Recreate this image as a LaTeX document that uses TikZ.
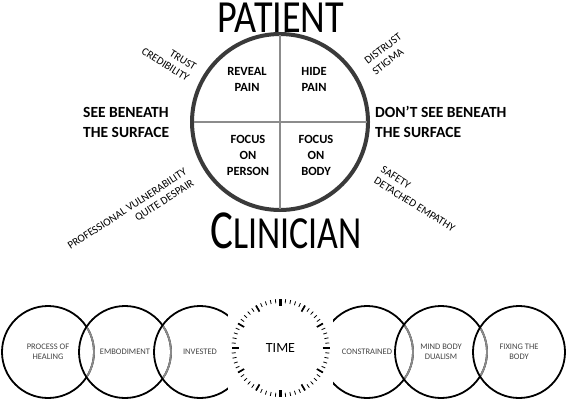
\documentclass[tikz,border=0pt]{standalone}
\usepackage{fontspec}
\setmainfont{Carlito}
\definecolor{ringdark}{HTML}{3A3A3A}
\definecolor{crossgray}{HTML}{8C8C8C}
\definecolor{labgray}{HTML}{444444}
\definecolor{lensgray}{HTML}{8A8A8A}
\begin{document}
\begin{tikzpicture}[x=1pt,y=-1pt,
  bigring/.style={circle, draw=ringdark, line width=4pt, minimum size=176pt, inner sep=0pt},
  crossline/.style={draw=crossgray, line width=1.4pt, shorten <=3.5pt, shorten >=3.5pt},
  quad/.style={font=\bfseries\fontsize{12.5}{16}\selectfont, align=center, inner sep=0pt},
  side/.style={font=\bfseries\fontsize{15.5}{20}\selectfont, align=left, inner sep=0pt, anchor=west},
  small/.style={font=\fontsize{11}{13}\selectfont, inner sep=0pt},
  bubble/.style={circle, draw=black, line width=1.8pt, minimum size=92pt, inner sep=0pt,
    font=\fontsize{8.5}{9.5}\selectfont, text=labgray, align=center},
  lens/.style={draw=lensgray, line width=1.8pt},
  tickmin/.style={line width=0.8pt, black},
  tickhour/.style={line width=1.7pt, black},
  tickquart/.style={line width=2.5pt, black}
]
\useasboundingbox (0,0) rectangle (567,404);

% top ring
\node[bigring] (big) at (280,122) {};
\draw[crossline] (big.north) -- (big.south);
\draw[crossline] (big.west) -- (big.east);

\node[quad] (reveal) at (247,79) {REVEAL\\PAIN};
\node[quad] (hide) at (314,79) {HIDE\\PAIN};
\node[quad] (person) at (248,155) {FOCUS\\ON\\PERSON};
\node[quad] (body) at (316,155) {FOCUS\\ON\\BODY};

\node[inner sep=0pt, font=\fontsize{46}{46}\selectfont] (patient) at (281,18) {\scalebox{0.83}[1]{PATIENT}};
\node[inner sep=0pt] (clinician) at (286,230.5) {\scalebox{0.78}[1]{{\fontsize{55}{55}\selectfont C}{\fontsize{46}{46}\selectfont LINICIAN}}};

\node[side] (see) at (83,122) {SEE BENEATH\\THE SURFACE};
\node[side] (dont) at (375,122) {DON’T SEE BENEATH\\THE SURFACE};

\node[small, rotate=-32, align=right] (trust) at (169,59) {TRUST\\CREDIBILITY};
\node[small, rotate=37, align=left] (distrust) at (387,54) {DISTRUST\\STIGMA};
\node[small, rotate=33, align=right] (prof) at (131,215) {PROFESSIONAL VULNERABILITY\\QUITE DESPAIR};
\node[small, rotate=-32, align=left] (safety) at (418,199) {SAFETY\\DETACHED EMPATHY};

% bottom bubbles
\node[bubble] (c1) at (48,352) {PROCESS OF\\HEALING};
\node[bubble] (c2) at (125,352) {EMBODIMENT};
\node[bubble] (c3) at (200,352) {INVESTED};
\node[bubble] (c4) at (367,352) {CONSTRAINED};
\node[bubble] (c5) at (441,352) {MIND BODY\\DUALISM};
\node[bubble] (c6) at (519,352) {FIXING THE\\BODY};

\begin{scope}\clip (c2.center) circle (45);\draw[lens] (c1.center) circle (46);\end{scope}
\begin{scope}\clip (c3.center) circle (45);\draw[lens] (c2.center) circle (46);\end{scope}
\begin{scope}\clip (c5.center) circle (45);\draw[lens] (c4.center) circle (46);\end{scope}
\begin{scope}\clip (c6.center) circle (45);\draw[lens] (c5.center) circle (46);\end{scope}

% clock
\node[fill=white, inner sep=0pt, minimum width=105pt, minimum height=110pt] (clock) at (280.5,348) {};
\begin{scope}[shift={(clock.center)}]
  \foreach \a in {0,6,...,354} \draw[tickmin] (\a:45) -- (\a:49);
  \foreach \a in {30,60,120,150,210,240,300,330} \draw[tickhour] (\a:42) -- (\a:49);
  \foreach \a in {0,90,180,270} \draw[tickquart] (\a:42) -- (\a:49);
\end{scope}
\node[inner sep=0pt, font=\fontsize{14}{14}\selectfont] (time) at (clock.center) {TIME};
\end{tikzpicture}
\end{document}
